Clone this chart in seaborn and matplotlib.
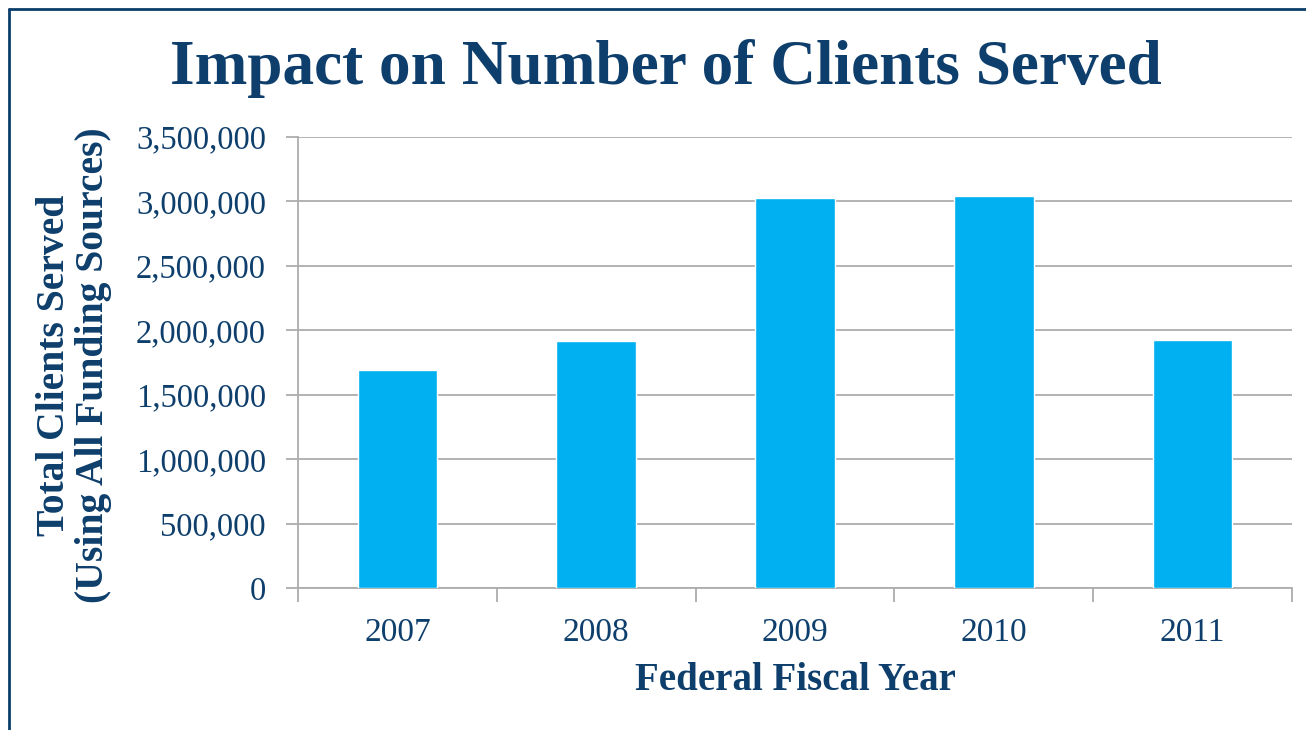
import matplotlib
matplotlib.use("Agg")
import matplotlib.pyplot as plt
import seaborn as sns
import pandas as pd
from matplotlib.ticker import FuncFormatter, MultipleLocator
from matplotlib.lines import Line2D

years = ["2007", "2008", "2009", "2010", "2011"]
clients = [1691000, 1916000, 3026000, 3041000, 1924000]

TEXT = "#0E3F6C"
BAR = "#00B0F0"
GRID = "#ADADAD"

sns.set_theme(style="white")
plt.rcParams["font.family"] = ["Liberation Serif", "DejaVu Serif"]

df = pd.DataFrame({"year": years, "clients": clients})

fig = plt.figure(figsize=(13.06, 7.30), dpi=100)
W, H = 1306, 730
ax = fig.add_axes([298 / W, 1 - 588 / H, (1292 - 298) / W, (588 - 137) / H])

sns.barplot(data=df, x="year", y="clients", color=BAR, width=0.4,
            saturation=1, ax=ax, zorder=3)

ax.set_ylim(0, 3500000)
ax.set_xlim(-0.5, 4.5)
ax.yaxis.set_major_locator(MultipleLocator(500000))
ax.yaxis.set_major_formatter(FuncFormatter(lambda v, p: f"{int(v):,}"))
ax.grid(axis="y", color=GRID, linewidth=1.3, zorder=0)
ax.grid(axis="x", visible=False)

for s in ["top", "right"]:
    ax.spines[s].set_visible(False)
for s in ["left", "bottom"]:
    ax.spines[s].set_color(GRID)
    ax.spines[s].set_linewidth(1.3)

ax.tick_params(axis="y", which="major", length=9, width=1.3, color=GRID,
               labelsize=23.5, labelcolor=TEXT, pad=14, left=True)
ax.set_xticks(range(5))
ax.set_xticklabels(years)
ax.tick_params(axis="x", which="major", length=0, labelsize=24,
               labelcolor=TEXT, pad=21)
ax.set_xticks([i - 0.5 for i in range(6)], minor=True)
ax.tick_params(axis="x", which="minor", length=10, width=1.3, color=GRID,
               bottom=True)

ax.set_xlabel("Federal Fiscal Year", fontsize=28, fontweight="bold",
              color=TEXT, labelpad=10)
ax.set_ylabel("")

fig.text(74 / W, 1 - 365 / H, "Total Clients Served\n(Using All Funding Sources)",
         rotation=90, ha="center", va="center", fontsize=28.5, fontweight="bold",
         color=TEXT, linespacing=1.1)

fig.text(666 / W, 1 - 69 / H, "Impact on Number of Clients Served",
         ha="center", va="center", fontsize=45.5, fontweight="bold", color=TEXT)

# frame border
fig.add_artist(Line2D([9 / W, 9 / W], [0, 1 - 9 / H], transform=fig.transFigure,
                      color="#0B3D6B", linewidth=2))
fig.add_artist(Line2D([9 / W, 1], [1 - 9 / H, 1 - 9 / H], transform=fig.transFigure,
                      color="#0B3D6B", linewidth=2))

fig.savefig("out.png", dpi=100)
